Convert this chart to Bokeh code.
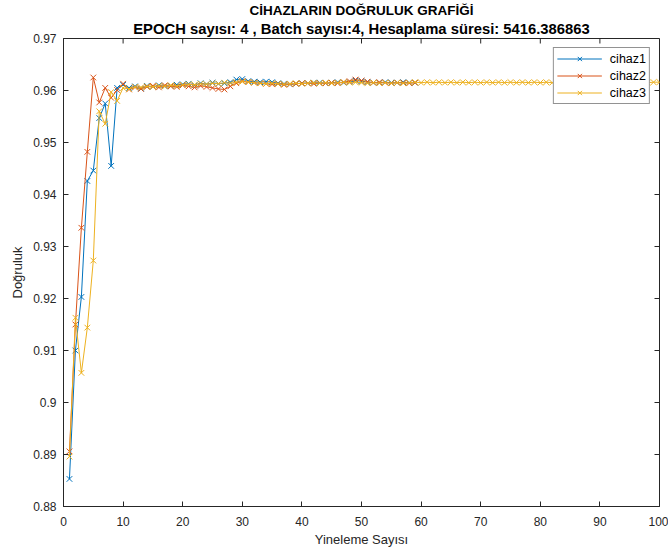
from bokeh.plotting import figure
from bokeh.models import Title, FixedTicker, Legend, LegendItem, Range1d
from bokeh.embed import file_html
from bokeh.resources import INLINE

title_main = "CİHAZLARIN DOĞRULUK GRAFİĞİ"
title_sub = "EPOCH sayısı: 4 , Batch sayısı:4, Hesaplama süresi: 5416.386863"
x_label = "Yineleme Sayısı"
y_label = "Doğruluk"
series_names = ["cihaz1", "cihaz2", "cihaz3"]

cihaz1 = [0.8853, 0.9100, 0.9203, 0.9426, 0.9446, 0.9547, 0.9575, 0.9455, 0.9605, 0.9611,
          0.9605, 0.9608, 0.9604, 0.9609, 0.9607, 0.9610, 0.9608, 0.9609, 0.9611, 0.9612,
          0.9613, 0.9610, 0.9614, 0.9612, 0.9615, 0.9613, 0.9614, 0.9616, 0.9621, 0.9622,
          0.9618, 0.9617, 0.9616, 0.9617, 0.9616, 0.9614, 0.9613, 0.9612, 0.9613, 0.9614,
          0.9614, 0.9615, 0.9615, 0.9614, 0.9615, 0.9616, 0.9615, 0.9616, 0.9619, 0.9618,
          0.9616, 0.9615, 0.9615, 0.9616, 0.9615, 0.9615, 0.9616, 0.9615, 0.9615]
cihaz2 = [0.8906, 0.9150, 0.9336, 0.9482, 0.9625, 0.9577, 0.9605, 0.9586, 0.9601, 0.9613,
          0.9602, 0.9606, 0.9603, 0.9607, 0.9609, 0.9606, 0.9610, 0.9608, 0.9607, 0.9610,
          0.9608, 0.9606, 0.9609, 0.9607, 0.9605, 0.9603, 0.9602, 0.9608, 0.9614, 0.9618,
          0.9616, 0.9615, 0.9614, 0.9613, 0.9612, 0.9613, 0.9611, 0.9612, 0.9613, 0.9614,
          0.9614, 0.9613, 0.9614, 0.9614, 0.9615, 0.9614, 0.9616, 0.9618, 0.9621, 0.9619,
          0.9617, 0.9615, 0.9616, 0.9615, 0.9614, 0.9615, 0.9615, 0.9614, 0.9615]
cihaz3 = [0.8896, 0.9163, 0.9057, 0.9144, 0.9273, 0.9560, 0.9536, 0.9597, 0.9580, 0.9605,
          0.9603, 0.9607, 0.9606, 0.9608, 0.9607, 0.9609, 0.9608, 0.9610, 0.9609, 0.9611,
          0.9612, 0.9611, 0.9613, 0.9612, 0.9614, 0.9613, 0.9615, 0.9614, 0.9616, 0.9617,
          0.9616, 0.9615, 0.9614, 0.9613, 0.9614, 0.9613, 0.9612, 0.9613, 0.9614, 0.9613,
          0.9614, 0.9615, 0.9614, 0.9615, 0.9614, 0.9615, 0.9616, 0.9615, 0.9616, 0.9615,
          0.9614, 0.9615, 0.9614, 0.9615, 0.9614, 0.9615, 0.9614, 0.9615, 0.9616, 0.9615,
          0.9616, 0.9615, 0.9616, 0.9615, 0.9616, 0.9615, 0.9616, 0.9615, 0.9616, 0.9615,
          0.9616, 0.9615, 0.9616, 0.9615, 0.9616, 0.9615, 0.9616, 0.9615, 0.9616, 0.9615,
          0.9616, 0.9615, 0.9616, 0.9615, 0.9616, 0.9615, 0.9616, 0.9615, 0.9616, 0.9615,
          0.9616, 0.9615, 0.9616, 0.9615, 0.9616, 0.9615, 0.9616, 0.9615, 0.9616, 0.9616]
x1 = list(range(1, len(cihaz1) + 1))
x2 = list(range(1, len(cihaz2) + 1))
x3 = list(range(1, len(cihaz3) + 1))
x_ticks = [0, 10, 20, 30, 40, 50, 60, 70, 80, 90, 100]
y_ticks = [0.88, 0.89, 0.90, 0.91, 0.92, 0.93, 0.94, 0.95, 0.96, 0.97]
y_tick_labels = {0.88: "0.88", 0.89: "0.89", 0.90: "0.9", 0.91: "0.91", 0.92: "0.92",
                 0.93: "0.93", 0.94: "0.94", 0.95: "0.95", 0.96: "0.96", 0.97: "0.97"}

colors = ["#0072BD", "#D95319", "#EDB120"]
FONT = "Liberation Sans"
DARK = "#262626"

X0, X1 = 0, 100
Y0, Y1 = 0.88, 0.97
FRAME_W, FRAME_H = 596, 468
TICK_PX = 5

p = figure(frame_width=FRAME_W, frame_height=FRAME_H, output_backend="svg", toolbar_location=None,
           x_range=Range1d(X0, X1), y_range=Range1d(Y0, Y1),
           min_border_left=63, min_border_right=9, min_border_bottom=6, min_border_top=7)
p.grid.visible = False
p.outline_line_color = DARK
p.outline_line_width = 1
p.background_fill_color = "white"
p.border_fill_color = "white"

sub = Title(text=title_sub, align="center", text_font=FONT, text_font_size="14.8px",
            text_font_style="bold", text_color="black", standoff=3)
main = Title(text=title_main, align="center", text_font=FONT, text_font_size="13.5px",
             text_font_style="bold", text_color="black", standoff=0)
p.add_layout(sub, "above")
p.add_layout(main, "above")

for ax in [p.xaxis[0], p.yaxis[0]]:
    ax.major_tick_in = TICK_PX
    ax.major_tick_out = 0
    ax.minor_tick_line_color = None
    ax.axis_line_color = DARK
    ax.major_tick_line_color = DARK
    ax.major_label_text_font = FONT
    ax.major_label_text_font_size = "12px"
    ax.major_label_text_color = DARK
    ax.axis_label_text_font = FONT
    ax.axis_label_text_font_size = "13px"
    ax.axis_label_text_font_style = "normal"
    ax.axis_label_text_color = DARK

p.xaxis[0].ticker = FixedTicker(ticks=x_ticks)
p.yaxis[0].ticker = FixedTicker(ticks=y_ticks)
p.yaxis[0].major_label_overrides = y_tick_labels
p.xaxis[0].axis_label = x_label
p.yaxis[0].axis_label = y_label
p.xaxis[0].major_label_standoff = 10
p.yaxis[0].major_label_standoff = 7
p.xaxis[0].axis_label_standoff = 3
p.yaxis[0].axis_label_standoff = 5

# Box ticks on the top and right edges (MATLAB "box on" style)
dy = (Y1 - Y0) * TICK_PX / FRAME_H
dx = (X1 - X0) * TICK_PX / FRAME_W
p.segment(x0=x_ticks, x1=x_ticks, y0=[Y1] * len(x_ticks), y1=[Y1 - dy] * len(x_ticks),
          line_color=DARK, line_width=1)
p.segment(x0=[X1] * len(y_ticks), x1=[X1 - dx] * len(y_ticks), y0=y_ticks, y1=y_ticks,
          line_color=DARK, line_width=1)

items = []
for name, xs, ys, c in zip(series_names, [x1, x2, x3], [cihaz1, cihaz2, cihaz3], colors):
    r1 = p.line(xs, ys, line_color=c, line_width=1)
    r2 = p.scatter(xs, ys, marker="x", size=8, line_color=c, line_width=1)
    items.append(LegendItem(label=name, renderers=[r1, r2]))

legend = Legend(items=items, location="top_right", label_text_font=FONT,
                label_text_font_size="12.5px", label_text_color="black",
                border_line_color=DARK, border_line_width=1, background_fill_alpha=1,
                glyph_width=45, glyph_height=15, label_height=15, spacing=2,
                padding=3, margin=9, label_standoff=8)
p.add_layout(legend)

open("out.html", "w").write(file_html(p, INLINE))
